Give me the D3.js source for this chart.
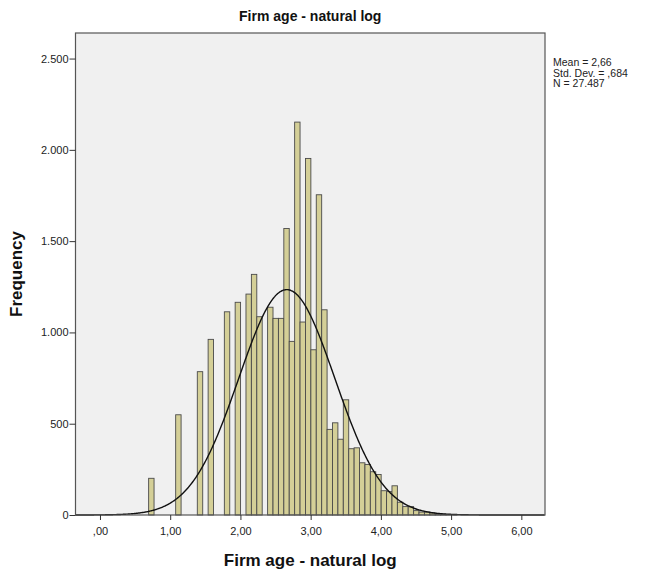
<!DOCTYPE html>
<html>
<head>
<meta charset="utf-8">
<script src="https://cdn.jsdelivr.net/npm/d3@7"></script>
<style>
    body { margin: 0; background: #fff; }
    svg { display: block; font-family: Arial, "Liberation Sans", sans-serif; }
</style>
</head>
<body>
<div id="chart-area"></div>
<script>
// Datos del histograma (frecuencias por intervalo, desde ln(2))
const binStart = 0.693;
const binWidth = 0.077;
const counts = [
    201, 0, 0, 0, 0, 549, 0, 0, 0, 785,
    0, 962, 0, 0, 1113, 0, 1165, 0, 1210, 1318,
    1086, 0, 1138, 1077, 1077, 1569, 951, 2152, 1057, 1953,
    905, 1754, 1124, 469, 505, 415, 631, 363, 368, 286,
    277, 237, 222, 133, 128, 160, 70, 46, 46, 24,
    16, 16, 11, 6, 4, 2, 1
];
const xTicks = [0, 1, 2, 3, 4, 5, 6];
const yTicks = [0, 500, 1000, 1500, 2000, 2500];
const statLines = ["Mean = 2,66", "Std. Dev. = ,684", "N = 27.487"];
const mean = 2.66;
const sd = 0.684;
const n = 27487;
const chartTitle = "Firm age - natural log";
const xTitle = "Firm age - natural log";
const yTitle = "Frequency";

const width = 646;
const height = 575;
const margin = { top: 33, right: 101, bottom: 60, left: 75.5 };
const innerW = width - margin.left - margin.right;
const innerH = height - margin.top - margin.bottom;

const locale = d3.formatLocale({ decimal: ",", thousands: ".", grouping: [3], currency: ["", ""] });
const fmtX = d => locale.format(".2f")(d).replace(/^0,/, ",");
const fmtY = locale.format(",d");

const svg = d3.select("#chart-area")
    .append("svg")
    .attr("width", width)
    .attr("height", height);

const g = svg.append("g")
    .attr("transform", `translate(${margin.left},${margin.top})`);

// Escalas
const x = d3.scaleLinear()
    .domain([-0.3485, 6.337])
    .range([0, innerW]);

const y = d3.scaleLinear()
    .domain([0, 2640])
    .range([innerH, 0]);

// Fondo del área de datos
g.append("rect")
    .attr("width", innerW)
    .attr("height", innerH)
    .attr("fill", "#f0f0f0");

// Barras
const bins = counts.map((c, i) => ({ x0: binStart + i * binWidth, count: c }))
    .filter(d => d.count > 0);

g.selectAll("rect.bar")
    .data(bins)
    .enter()
    .append("rect")
    .attr("class", "bar")
    .attr("x", d => x(d.x0))
    .attr("y", d => y(d.count))
    .attr("width", d => x(d.x0 + binWidth) - x(d.x0))
    .attr("height", d => innerH - y(d.count))
    .attr("fill", "#d4cf97")
    .attr("stroke", "#4a4a4a")
    .attr("stroke-width", 0.9);

// Curva normal
const curveX = d3.range(x.domain()[0], x.domain()[1], 0.01);
const pdf = v => Math.exp(-0.5 * ((v - mean) / sd) ** 2) / (sd * Math.sqrt(2 * Math.PI));
const line = d3.line()
    .x(v => x(v))
    .y(v => y(n * binWidth * pdf(v)))
    .curve(d3.curveBasis);

g.append("path")
    .datum(curveX)
    .attr("d", line)
    .attr("fill", "none")
    .attr("stroke", "#111")
    .attr("stroke-width", 1.4);

// Marco
g.append("rect")
    .attr("width", innerW)
    .attr("height", innerH)
    .attr("fill", "none")
    .attr("stroke", "#555")
    .attr("stroke-width", 1.2);

// Ejes
const bottomAxis = d3.axisBottom(x).tickValues(xTicks).tickFormat(fmtX).tickSize(5).tickSizeOuter(0);
const xAxisG = g.append("g")
    .attr("transform", `translate(0,${innerH})`)
    .call(bottomAxis);
xAxisG.select(".domain").remove();
xAxisG.selectAll("line").attr("stroke", "#333");
xAxisG.selectAll("text")
    .attr("font-size", "11px")
    .attr("fill", "#222")
    .attr("dy", "1.05em");

const leftAxis = d3.axisLeft(y).tickValues(yTicks).tickFormat(fmtY).tickSize(6).tickSizeOuter(0);
const yAxisG = g.append("g").call(leftAxis);
yAxisG.select(".domain").remove();
yAxisG.selectAll("line").attr("stroke", "#333");
yAxisG.selectAll("text")
    .attr("font-size", "11px")
    .attr("fill", "#222")
    .attr("x", -7);

// Títulos
svg.append("text")
    .attr("x", margin.left + innerW / 2)
    .attr("y", 21)
    .attr("text-anchor", "middle")
    .attr("font-size", "14px")
    .attr("font-weight", "bold")
    .attr("fill", "#111")
    .text(chartTitle);

svg.append("text")
    .attr("x", margin.left + innerW / 2)
    .attr("y", 566)
    .attr("text-anchor", "middle")
    .attr("font-size", "17px")
    .attr("font-weight", "bold")
    .attr("fill", "#111")
    .text(xTitle);

svg.append("text")
    .attr("transform", "rotate(-90)")
    .attr("x", -274)
    .attr("y", 22)
    .attr("text-anchor", "middle")
    .attr("font-size", "17px")
    .attr("font-weight", "bold")
    .attr("fill", "#111")
    .text(yTitle);

// Estadísticos
svg.append("g")
    .selectAll("text")
    .data(statLines)
    .enter()
    .append("text")
    .attr("x", 553)
    .attr("y", (d, i) => 66 + i * 10.5)
    .attr("font-size", "10.5px")
    .attr("fill", "#222")
    .text(d => d);
</script>
</body>
</html>
